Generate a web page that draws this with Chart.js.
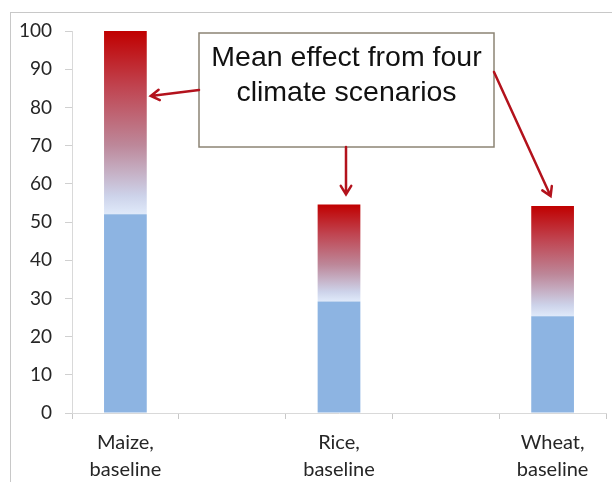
<!DOCTYPE html>
<html>
<head>
<meta charset="utf-8">
<script src="https://cdn.jsdelivr.net/npm/chart.js@4/dist/chart.umd.min.js"></script>
<style>
  html, body { margin: 0; padding: 0; background: #fff; }
  #wrap { position: absolute; left: 10px; top: 12px; width: 700px; height: 600px;
          border-left: 1px solid #c8c8c8; border-top: 1px solid #c8c8c8; }
  canvas { position: absolute; left: 0; top: 0; }
</style>
</head>
<body>
<div id="wrap"></div>
<canvas id="yieldChart" width="612" height="482"></canvas>
<script>
// categories (the empty ones are spacer slots between the crops)
const categories = [['Maize,', 'baseline'], '', ['Rice,', 'baseline'], '', ['Wheat,', 'baseline']];
// baseline yield and top of the climate-scenario effect
const baseline = [52, null, 29.2, null, 25.3];
const withClimate = [100, null, 54.6, null, 54.2];
const yTicks = [0, 10, 20, 30, 40, 50, 60, 70, 80, 90, 100];

const floatingEffect = baseline.map((b, i) => (b === null ? null : [b, withClimate[i]]));

function effectGradient(context) {
  const chart = context.chart;
  const yScale = chart.scales.y;
  const i = context.dataIndex;
  if (!yScale || floatingEffect[i] === null) return '#c00000';
  const bottom = yScale.getPixelForValue(floatingEffect[i][0]);
  const top = yScale.getPixelForValue(floatingEffect[i][1]);
  if (!isFinite(bottom) || !isFinite(top) || bottom === top) return '#c00000';
  const g = chart.ctx.createLinearGradient(0, bottom, 0, top);
  g.addColorStop(0, '#e0eafa');
  g.addColorStop(0.1, '#cdd3ea');
  g.addColorStop(0.38, '#bd8799');
  g.addColorStop(0.7, '#c0434f');
  g.addColorStop(1, '#c00000');
  return g;
}

const annotation = {
  id: 'annotation',
  afterDatasetsDraw(chart) {
    const ctx = chart.ctx;
    const y = chart.scales.y;
    const bars = chart.getDatasetMeta(1).data;
    const box = { left: 199, top: 33, right: 494, bottom: 147 };
    const red = '#b3121c';

    function arrow(x1, y1, x2, y2) {
      const ang = Math.atan2(y2 - y1, x2 - x1);
      const head = 10;
      ctx.save();
      ctx.strokeStyle = red;
      ctx.lineWidth = 2.5;
      ctx.lineCap = 'round';
      ctx.beginPath();
      ctx.moveTo(x1, y1);
      ctx.lineTo(x2, y2);
      ctx.moveTo(x2 - head * Math.cos(ang - 0.55), y2 - head * Math.sin(ang - 0.55));
      ctx.lineTo(x2, y2);
      ctx.lineTo(x2 - head * Math.cos(ang + 0.55), y2 - head * Math.sin(ang + 0.55));
      ctx.stroke();
      ctx.restore();
    }

    // box
    ctx.save();
    ctx.fillStyle = '#ffffff';
    ctx.fillRect(box.left, box.top, box.right - box.left, box.bottom - box.top);
    ctx.strokeStyle = '#8c8474';
    ctx.lineWidth = 1.5;
    ctx.strokeRect(box.left, box.top, box.right - box.left, box.bottom - box.top);
    ctx.fillStyle = '#111111';
    ctx.font = '28.5px "Liberation Sans", Arial, sans-serif';
    ctx.textAlign = 'center';
    ctx.textBaseline = 'middle';
    const cx = (box.left + box.right) / 2;
    ctx.fillText('Mean effect from four', cx, 58);
    ctx.fillText('climate scenarios', cx, 93);
    ctx.restore();

    // arrows to the three effect bars
    const maize = bars[0].getProps(['x', 'width'], true);
    arrow(box.left, 90, maize.x + maize.width / 2 + 4, y.getPixelForValue(83));
    const rice = bars[2].getProps(['x', 'y'], true);
    arrow(rice.x + 7, box.bottom, rice.x + 7, rice.y - 10);
    const wheat = bars[4].getProps(['x', 'y'], true);
    arrow(box.right, 72, wheat.x - 2, wheat.y - 10);
  }
};

new Chart(document.getElementById('yieldChart'), {
  type: 'bar',
  data: {
    labels: categories,
    datasets: [
      {
        label: 'Baseline',
        data: baseline,
        backgroundColor: '#8db4e2',
        borderWidth: 0,
        barPercentage: 0.4,
        categoryPercentage: 1
      },
      {
        label: 'Mean effect from four climate scenarios',
        data: floatingEffect,
        backgroundColor: effectGradient,
        borderWidth: 0,
        barPercentage: 0.4,
        categoryPercentage: 1
      }
    ]
  },
  options: {
    responsive: false,
    devicePixelRatio: 1,
    animation: false,
    layout: { padding: { left: 10, top: 31, right: 6, bottom: 0 } },
    plugins: {
      legend: { display: false },
      tooltip: { enabled: false }
    },
    scales: {
      x: {
        stacked: true,
        grid: { drawOnChartArea: false, color: '#c8c8c8', tickLength: 6, offset: true },
        border: { color: '#d9d9d9' },
        ticks: {
          color: '#262626',
          padding: 10,
          maxRotation: 0,
          font: { family: 'Lato, "Open Sans", sans-serif', size: 20, lineHeight: 1.35 }
        },
        afterFit(scale) { scale.height = 69; }
      },
      y: {
        stacked: false,
        min: 0,
        max: 100,
        afterBuildTicks(scale) { scale.ticks = yTicks.map(v => ({ value: v })); },
        grid: { drawOnChartArea: false, color: '#d0d0d0', tickLength: 7 },
        border: { color: '#d9d9d9' },
        ticks: {
          color: '#262626',
          padding: 13,
          font: { family: 'Lato, "Open Sans", sans-serif', size: 19 }
        },
        afterFit(scale) { scale.width = 62; }
      }
    }
  },
  plugins: [annotation]
});
</script>
</body>
</html>
